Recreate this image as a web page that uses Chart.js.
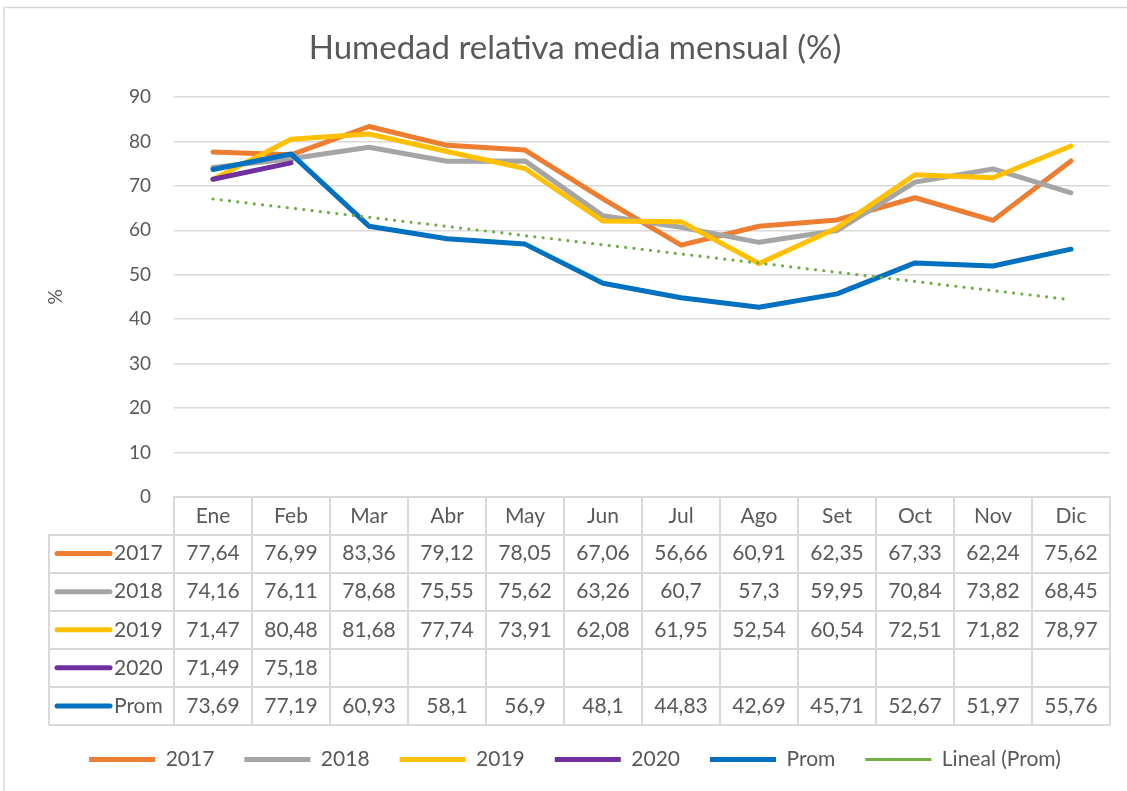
<!DOCTYPE html>
<html>
<head>
<meta charset="utf-8">
<title>Humedad relativa media mensual</title>
<script src="https://cdn.jsdelivr.net/npm/chart.js@4.4.1/dist/chart.umd.min.js"></script>
<style>
    body { margin: 0; background: #fff; overflow: hidden; }
    #wrap { width: 1127px; height: 791px; position: relative; }
</style>
</head>
<body>
<div id="wrap"><canvas id="humChart"></canvas></div>
<script>
const months = ['Ene', 'Feb', 'Mar', 'Abr', 'May', 'Jun', 'Jul', 'Ago', 'Set', 'Oct', 'Nov', 'Dic'];
const hum2017 = [77.64, 76.99, 83.36, 79.12, 78.05, 67.06, 56.66, 60.91, 62.35, 67.33, 62.24, 75.62];
const hum2018 = [74.16, 76.11, 78.68, 75.55, 75.62, 63.26, 60.7, 57.3, 59.95, 70.84, 73.82, 68.45];
const hum2019 = [71.47, 80.48, 81.68, 77.74, 73.91, 62.08, 61.95, 52.54, 60.54, 72.51, 71.82, 78.97];
const hum2020 = [71.49, 75.18, null, null, null, null, null, null, null, null, null, null];
const humProm = [73.69, 77.19, 60.93, 58.1, 56.9, 48.1, 44.83, 42.69, 45.71, 52.67, 51.97, 55.76];
// linear trend of Prom, only its two ends
const trendProm = [67.05, null, null, null, null, null, null, null, null, null, null, 44.37];
const yTicks = [0, 10, 20, 30, 40, 50, 60, 70, 80, 90];

const GRID = '#d9d9d9';
const TEXT = '#595959';
const FONT = 'Lato, "Open Sans", sans-serif';

Chart.defaults.font.family = FONT;
Chart.defaults.color = TEXT;

function lineSet(label, data, color, order) {
    return {
        label: label,
        data: data,
        borderColor: color,
        backgroundColor: color,
        borderWidth: 5,
        borderCapStyle: 'round',
        borderJoinStyle: 'round',
        pointRadius: 0,
        pointHoverRadius: 0,
        tension: 0,
        fill: false,
        order: order
    };
}

const tableRows = [
    { label: '2017', values: hum2017, color: '#ED7D31' },
    { label: '2018', values: hum2018, color: '#A5A5A5' },
    { label: '2019', values: hum2019, color: '#FFC000' },
    { label: '2020', values: hum2020, color: '#7030A0' },
    { label: 'Prom', values: humProm, color: '#0070C0' }
];

function fmt(v) {
    return v === null ? '' : String(v).replace('.', ',');
}

// frame around the whole chart
const framePlugin = {
    id: 'frame',
    beforeDraw(chart) {
        const ctx = chart.ctx;
        ctx.save();
        ctx.fillStyle = '#fff';
        ctx.fillRect(0, 0, chart.width, chart.height);
        ctx.strokeStyle = GRID;
        ctx.lineWidth = 1.5;
        ctx.strokeRect(4, 7.5, chart.width + 20, chart.height + 20);
        ctx.restore();
    }
};

// data table under the category axis
const HEAD_H = 37.5;
const ROW_H = 38.1;
const tablePlugin = {
    id: 'dataTable',
    afterDraw(chart) {
        const ctx = chart.ctx;
        const x = chart.scales.x;
        const left = x.left, right = x.right;
        const colW = (right - left) / months.length;
        const headBottom = x.top + HEAD_H;
        const bottom = headBottom + ROW_H * tableRows.length;
        const keyLeft = 49;

        ctx.save();
        ctx.strokeStyle = GRID;
        ctx.lineWidth = 2;
        ctx.beginPath();
        for (let i = 0; i <= months.length; i++) {
            const px = Math.round(left + i * colW);
            ctx.moveTo(px, x.top);
            ctx.lineTo(px, bottom);
        }
        ctx.moveTo(keyLeft, headBottom);
        ctx.lineTo(keyLeft, bottom);
        for (let r = 0; r <= tableRows.length; r++) {
            const py = Math.round(headBottom + r * ROW_H);
            ctx.moveTo(keyLeft, py);
            ctx.lineTo(right, py);
        }
        ctx.stroke();

        ctx.font = '21px ' + FONT;
        ctx.textBaseline = 'middle';
        tableRows.forEach((row, r) => {
            const cy = headBottom + (r + 0.5) * ROW_H;
            ctx.strokeStyle = row.color;
            ctx.lineWidth = 5;
            ctx.lineCap = 'round';
            ctx.beginPath();
            ctx.moveTo(57, cy);
            ctx.lineTo(110, cy);
            ctx.stroke();

            ctx.fillStyle = TEXT;
            ctx.textAlign = 'left';
            ctx.fillText(row.label, 114, cy);
            ctx.textAlign = 'center';
            row.values.forEach((v, i) => {
                ctx.fillText(fmt(v), x.getPixelForValue(i), cy);
            });
        });
        ctx.restore();
    }
};

new Chart(document.getElementById('humChart'), {
    type: 'line',
    data: {
        labels: months,
        datasets: [
            lineSet('2017', hum2017, '#ED7D31', 6),
            lineSet('2018', hum2018, '#A5A5A5', 5),
            lineSet('2019', hum2019, '#FFC000', 4),
            lineSet('2020', hum2020, '#7030A0', 3),
            lineSet('Prom', humProm, '#0070C0', 2),
            {
                label: 'Lineal (Prom)',
                data: trendProm,
                borderColor: '#70AD47',
                backgroundColor: '#70AD47',
                borderWidth: 3.2,
                borderDash: [0.01, 8.3],
                borderCapStyle: 'round',
                pointRadius: 0,
                pointHoverRadius: 0,
                spanGaps: true,
                fill: false,
                order: 1
            }
        ]
    },
    options: {
        responsive: true,
        maintainAspectRatio: false,
        animation: false,
        layout: { padding: { left: 40, right: 17, top: 0, bottom: 11 } },
        scales: {
            x: {
                offset: true,
                grid: { display: false, drawTicks: false },
                border: { display: true, color: GRID, width: 2 },
                ticks: { font: { size: 21 }, color: TEXT, padding: 7, maxRotation: 0 },
                // room for the table; the legend sits just under it
                afterFit: scale => { scale.height = 222; }
            },
            y: {
                min: 0,
                max: 90,
                afterBuildTicks: scale => { scale.ticks = yTicks.map(v => ({ value: v })); },
                grid: { color: GRID, lineWidth: 1.5, drawTicks: false },
                border: { display: false },
                ticks: { font: { size: 19 }, color: TEXT, padding: 23 },
                title: { display: true, text: '%', font: { size: 19 }, color: TEXT, padding: { top: 4, bottom: 0 } },
                afterFit: scale => { scale.width = 134; }
            }
        },
        plugins: {
            title: {
                display: true,
                text: 'Humedad relativa media mensual (%)',
                font: { size: 33, weight: 'normal' },
                color: TEXT,
                padding: { top: 29, bottom: 28.4 }
            },
            legend: {
                position: 'bottom',
                labels: {
                    usePointStyle: true,
                    pointStyle: 'line',
                    pointStyleWidth: 66,
                    font: { size: 21 },
                    color: TEXT,
                    padding: 30,
                    sort: (a, b) => a.datasetIndex - b.datasetIndex
                }
            },
            tooltip: { enabled: false }
        }
    },
    plugins: [framePlugin, tablePlugin]
});
</script>
</body>
</html>
